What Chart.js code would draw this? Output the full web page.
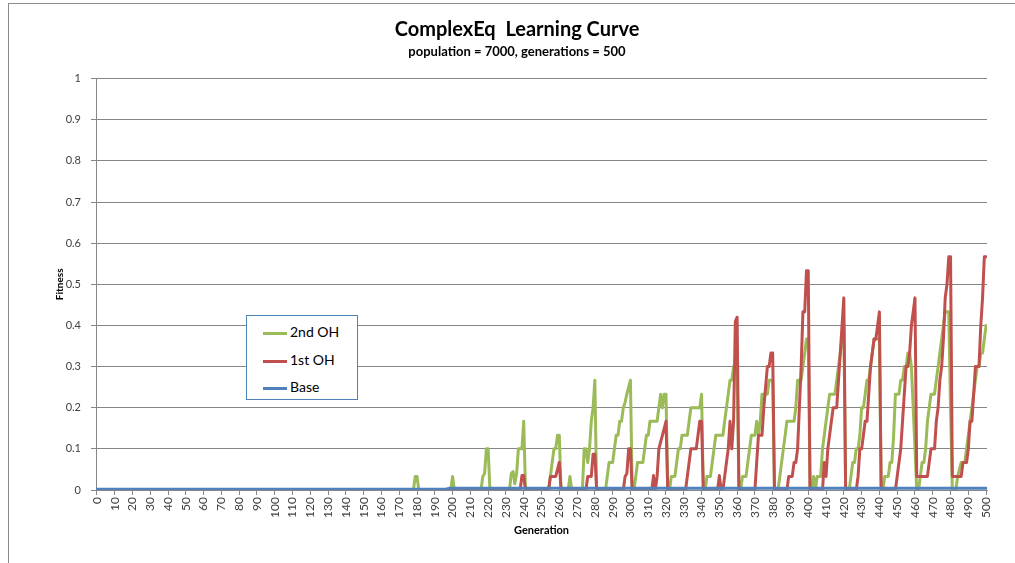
<!DOCTYPE html>
<html>
<head>
<meta charset="utf-8">
<script src="https://cdn.jsdelivr.net/npm/chart.js@4.4.1/dist/chart.umd.min.js"></script>
<style>
  html, body { margin: 0; padding: 0; background: #ffffff; }
  #quadro { position: relative; width: 1015px; height: 563px; overflow: hidden; }
  #borda { position: absolute; left: 8px; top: 3px; width: 1100px; height: 700px; border: 1px solid #8c8c8c; }
  #grafico { position: absolute; left: 0; top: 0; }
  #legenda {
    position: absolute; left: 246px; top: 315px; width: 110px; height: 83px;
    border: 1px solid #4f81bd; background: #ffffff;
    font-family: Lato, "Open Sans", sans-serif; font-size: 14px; color: #000000;
  }
  .item { position: absolute; left: 16px; height: 18px; line-height: 18px; white-space: nowrap; }
  .traco { display: inline-block; width: 24px; height: 3px; vertical-align: middle; margin-right: 3px; }
</style>
</head>
<body>
<div id="quadro">
  <div id="borda"></div>
  <canvas id="grafico" width="1015" height="563"></canvas>
  <div id="legenda"></div>
</div>
<script>
// valores (geração, fitness)
var gen2nd = [
  0,
  178, 179, 180, 181,
  199, 200, 201,
  216, 217, 218, 219, 220, 221,
  232, 233, 234, 235, 236, 237, 239, 240, 241,
  254, 255, 256, 257, 258, 259, 260, 261,
  265, 266, 267,
  273, 274, 275, 276, 277, 278, 279, 280, 281,
  286, 287, 288, 290, 291, 292, 293, 294, 295, 296, 297, 298, 299, 300, 301,
  302, 303, 304, 307, 308, 309, 310, 311, 315, 316, 317, 318, 319, 320, 321,
  322, 323, 325, 326, 327, 328, 329, 332, 333, 334, 339, 340, 341,
  342, 343, 345, 346, 347, 348, 352, 353, 354, 355, 356, 357, 358, 360, 361,
  362, 363, 365, 366, 367, 368, 370, 371, 372, 373, 374, 377, 378, 380, 381,
  383, 384, 385, 386, 387, 388, 392, 393, 394, 396, 397, 398, 399, 400, 401,
  402, 403, 404, 405, 407, 408, 409, 410, 411, 412, 415, 416, 417, 418, 419, 420, 421,
  423, 424, 425, 426, 427, 428, 429, 430, 431, 432, 433, 434, 435, 436, 437, 440, 441,
  442, 443, 445, 446, 447, 448, 449, 451, 452, 453, 454, 455, 456, 457, 458, 459, 460, 461,
  462, 463, 464, 465, 466, 467, 468, 469, 471, 472, 473, 474, 475, 476, 477, 479, 480, 481,
  483, 484, 485, 486, 488, 489, 490, 491, 492, 493, 494, 495, 496, 497, 498, 499, 500
];
var fit2nd = [
  0,
  0, 0.033, 0.033, 0,
  0, 0.033, 0,
  0, 0.033, 0.04, 0.1, 0.1, 0,
  0, 0.04, 0.045, 0.015, 0.04, 0.1, 0.1, 0.167, 0,
  0, 0.033, 0.067, 0.1, 0.1, 0.133, 0.133, 0,
  0, 0.033, 0,
  0, 0.1, 0.1, 0.067, 0.1, 0.167, 0.2, 0.267, 0,
  0, 0.033, 0.067, 0.067, 0.1, 0.133, 0.133, 0.167, 0.167, 0.2, 0.213, 0.233, 0.25, 0.267, 0,
  0, 0.033, 0.067, 0.067, 0.1, 0.133, 0.133, 0.167, 0.167, 0.2, 0.233, 0.2, 0.233, 0.233, 0,
  0, 0.033, 0.033, 0.067, 0.1, 0.1, 0.133, 0.133, 0.167, 0.2, 0.2, 0.233, 0,
  0, 0.033, 0.033, 0.067, 0.1, 0.133, 0.133, 0.167, 0.2, 0.233, 0.267, 0.267, 0.3, 0.3, 0,
  0, 0.033, 0.033, 0.067, 0.1, 0.133, 0.133, 0.167, 0.133, 0.167, 0.233, 0.233, 0.267, 0.267, 0,
  0, 0.033, 0.067, 0.1, 0.133, 0.167, 0.167, 0.2, 0.267, 0.267, 0.3, 0.333, 0.367, 0.367, 0,
  0, 0.033, 0, 0.033, 0.033, 0.1, 0.133, 0.167, 0.2, 0.233, 0.233, 0.267, 0.3, 0.333, 0.367, 0.4, 0,
  0, 0.033, 0.067, 0.067, 0.1, 0.1, 0.133, 0.2, 0.2, 0.233, 0.267, 0.267, 0.3, 0.333, 0.367, 0.367, 0,
  0, 0.033, 0.033, 0.067, 0.067, 0.133, 0.233, 0.233, 0.267, 0.267, 0.3, 0.3, 0.333, 0.333, 0.3, 0.2, 0.1, 0,
  0, 0.033, 0.067, 0.067, 0.1, 0.167, 0.2, 0.233, 0.233, 0.267, 0.3, 0.333, 0.367, 0.4, 0.433, 0.433, 0.2, 0,
  0, 0.033, 0.05, 0.067, 0.067, 0.1, 0.133, 0.167, 0.2, 0.233, 0.267, 0.3, 0.3, 0.333, 0.333, 0.367, 0.4
];

var gen1st = [
  0, 238, 239, 240, 241,
  254, 255, 258, 259, 260, 261,
  275, 276, 278, 279, 280, 281,
  296, 297, 298, 299, 300, 301,
  312, 313, 314, 315, 316, 317, 318, 319, 320, 321,
  331, 332, 333, 334, 337, 338, 339, 340, 341,
  349, 350, 351, 352, 353, 354, 355, 356, 357, 358, 359, 360, 361,
  370, 371, 372, 374, 375, 376, 377, 378, 379, 380, 381,
  388, 389, 391, 392, 393, 394, 395, 396, 397, 398, 399, 400, 401,
  408, 409, 410, 411, 412, 413, 414, 416, 417, 418, 419, 420, 421,
  427, 428, 429, 430, 431, 432, 433, 434, 435, 436, 437, 438, 439, 440, 441,
  449, 450, 451, 452, 453, 454, 455, 456, 457, 458, 459, 460, 461,
  467, 468, 469, 471, 472, 473, 474, 475, 476, 477, 478, 479, 480, 481,
  486, 487, 489, 490, 491, 492, 493, 494, 496, 497, 498, 499, 500
];
var fit1st = [
  0, 0, 0.035, 0.035, 0,
  0, 0.033, 0.033, 0.05, 0.067, 0,
  0, 0.033, 0.033, 0.087, 0.087, 0,
  0, 0.033, 0.04, 0.1, 0.1, 0,
  0, 0.035, 0, 0.033, 0.1, 0.117, 0.133, 0.15, 0.167, 0,
  0, 0.033, 0.067, 0.1, 0.1, 0.133, 0.167, 0.167, 0,
  0, 0.035, 0, 0, 0.033, 0.067, 0.1, 0.167, 0.1, 0.167, 0.41, 0.42, 0,
  0, 0.067, 0.133, 0.133, 0.2, 0.25, 0.3, 0.3, 0.333, 0.333, 0,
  0, 0.033, 0.033, 0.067, 0.067, 0.1, 0.2, 0.3, 0.433, 0.433, 0.533, 0.533, 0,
  0, 0.067, 0.033, 0.1, 0.133, 0.167, 0.2, 0.2, 0.267, 0.333, 0.4, 0.467, 0,
  0, 0.033, 0.1, 0.1, 0.133, 0.167, 0.167, 0.233, 0.3, 0.333, 0.367, 0.367, 0.4, 0.433, 0,
  0, 0.033, 0.067, 0.1, 0.167, 0.233, 0.3, 0.3, 0.333, 0.4, 0.433, 0.467, 0.033,
  0.033, 0.067, 0.1, 0.1, 0.167, 0.2, 0.267, 0.3, 0.367, 0.467, 0.5, 0.567, 0.567, 0.033,
  0.033, 0.067, 0.067, 0.1, 0.167, 0.167, 0.233, 0.3, 0.3, 0.4, 0.467, 0.567, 0.567
];

var genBase = [0, 196, 198, 500];
var fitBase = [0.002, 0.002, 0.004, 0.004];

var genTicks = [0, 10, 20, 30, 40, 50, 60, 70, 80, 90, 100, 110, 120, 130, 140, 150, 160, 170, 180, 190,
  200, 210, 220, 230, 240, 250, 260, 270, 280, 290, 300, 310, 320, 330, 340, 350, 360, 370, 380, 390,
  400, 410, 420, 430, 440, 450, 460, 470, 480, 490, 500];
var fitnessTicks = [0, 0.1, 0.2, 0.3, 0.4, 0.5, 0.6, 0.7, 0.8, 0.9, 1];

var fonte = 'Lato, "Open Sans", sans-serif';
var cinzaGrade = '#868686';

function pontos(gens, valores) {
  return gens.map(function (g, i) { return { x: g, y: valores[i] }; });
}

var series = [
  { label: '2nd OH', data: pontos(gen2nd, fit2nd), borderColor: '#9bbb59', order: 2 },
  { label: '1st OH', data: pontos(gen1st, fit1st), borderColor: '#c0504d', order: 1 },
  { label: 'Base', data: pontos(genBase, fitBase), borderColor: '#4f81bd', order: 0 }
];

series.forEach(function (s) {
  s.backgroundColor = s.borderColor;
  s.borderWidth = 3;
  s.pointRadius = 0;
  s.tension = 0;
  s.fill = false;
  s.borderJoinStyle = 'round';
  s.borderCapStyle = 'round';
});

new Chart(document.getElementById('grafico'), {
  type: 'line',
  data: { datasets: series },
  options: {
    responsive: false,
    animation: false,
    layout: { padding: { left: 47, right: 28, top: 8, bottom: 0 } },
    plugins: {
      legend: { display: false },
      tooltip: { enabled: false },
      title: {
        display: true,
        text: 'ComplexEq  Learning Curve',
        color: '#000000',
        font: { family: fonte, size: 20, weight: 'bold' },
        padding: { top: 10, bottom: 0 }
      },
      subtitle: {
        display: true,
        text: 'population = 7000, generations = 500',
        color: '#000000',
        font: { family: fonte, size: 13, weight: 'bold' },
        padding: { top: 2, bottom: 19 }
      }
    },
    scales: {
      x: {
        type: 'linear',
        min: -0.5,
        max: 500.5,
        afterBuildTicks: function (eixo) {
          eixo.ticks = genTicks.map(function (v) { return { value: v }; });
        },
        afterFit: function (eixo) { eixo.height = 73; },
        ticks: {
          autoSkip: false,
          maxRotation: 90,
          minRotation: 90,
          padding: 2,
          color: '#404040',
          font: { family: fonte, size: 12 }
        },
        grid: { drawOnChartArea: false, drawTicks: true, tickLength: 5, color: cinzaGrade },
        border: { display: true, color: cinzaGrade },
        title: {
          display: true,
          text: 'Generation',
          color: '#000000',
          font: { family: fonte, size: 11, weight: 'bold' },
          padding: { top: 0, bottom: 26 }
        }
      },
      y: {
        min: 0,
        max: 1,
        afterBuildTicks: function (eixo) {
          eixo.ticks = fitnessTicks.map(function (v) { return { value: v }; });
        },
        afterFit: function (eixo) { eixo.width = 49; },
        ticks: {
          padding: 10,
          color: '#404040',
          font: { family: fonte, size: 11 },
          callback: function (v) { return String(Math.round(v * 10) / 10); }
        },
        grid: { color: cinzaGrade, tickLength: 5 },
        border: { display: true, color: cinzaGrade },
        title: {
          display: true,
          text: 'Fitness',
          color: '#000000',
          font: { family: fonte, size: 10, weight: 'bold' },
          padding: { top: 7, bottom: 0 }
        }
      }
    }
  }
});

// legenda dentro da área do gráfico, como no original
var legenda = document.getElementById('legenda');
var topos = [7, 35, 62];
series.forEach(function (s, i) {
  var item = document.createElement('div');
  item.className = 'item';
  item.style.top = topos[i] + 'px';
  item.innerHTML = '<span class="traco" style="background:' + s.borderColor + '"></span>' + s.label;
  legenda.appendChild(item);
});
</script>
</body>
</html>
